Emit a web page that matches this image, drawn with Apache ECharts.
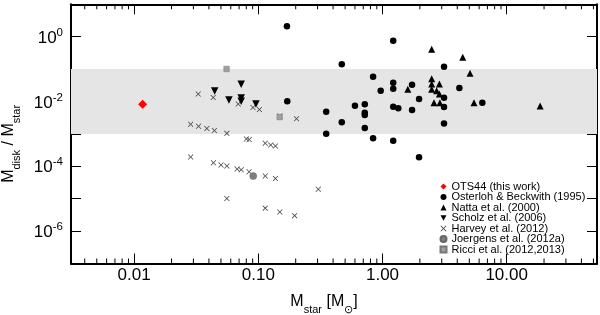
<!DOCTYPE html>
<html><head><meta charset="utf-8">
<script src="https://cdn.jsdelivr.net/npm/echarts@6/dist/echarts.min.js"></script>
<style>html,body{margin:0;padding:0;background:#fff}#c{width:600px;height:315px}</style>
</head><body><div id="c"></div>
<script>
// ---- data ----
const xRange = [0.0031, 53.4];
const yRange = [1e-7, 10];
const band = [0.001, 0.1];
const xMinorTicks = [0.004,0.005,0.006,0.007,0.008,0.009,
  0.02,0.03,0.04,0.05,0.06,0.07,0.08,0.09,
  0.2,0.3,0.4,0.5,0.6,0.7,0.8,0.9,
  2,3,4,5,6,7,8,9,20,30,40,50];
const seriesNames = ['OTS44 (this work)','Osterloh & Beckwith (1995)','Natta et al. (2000)','Scholz et al. (2006)','Harvey et al. (2012)','Joergens et al. (2012a)','Ricci et al. (2012,2013)'];
const ots44 = [[0.0117, 0.0082]];
const osterloh = [[1.22,0.75],[0.47,0.14],[3.13,0.119],[0.84,0.058],[1.22,0.038],[1.22,0.0248],[1.73,0.033],[0.967,0.0216],[4.16,0.026],[1.97,0.0119],[3.13,0.0131],[6.37,0.0092],[0.72,0.0082],[0.60,0.0074],[1.22,0.0069],[1.34,0.0062],[3.13,0.0068],[1.73,0.0055],[0.352,0.0048],[0.72,0.0045],[0.72,0.0038],[0.47,0.0023],[3.13,0.0021],[0.72,0.00152],[0.352,0.00101],[0.84,0.00073],[1.22,0.00062],[1.97,0.00019],[0.171,0.0101],[0.17,2.1]];
const natta = [[2.49,0.41],[4.43,0.231],[5.07,0.074],[2.49,0.0506],[2.87,0.0347],[2.49,0.0347],[2.49,0.0238],[1.60,0.0238],[2.73,0.0216],[2.87,0.017],[2.6,0.0092],[2.9,0.0092],[5.46,0.0092],[18.6,0.0073]];
const scholz = [[0.0445,0.0211],[0.0728,0.034],[0.058,0.0111],[0.0728,0.0128],[0.0728,0.0101],[0.0957,0.0084]];
const harvey = [[0.0328,0.0170],[0.0433,0.0133],[0.0689,0.00837],[0.0905,0.00653],[0.102,0.00566],[0.149,0.00357],[0.203,0.00294],[0.0285,0.00198],[0.0330,0.00172],[0.0385,0.00147],[0.0443,0.00127],[0.0558,0.00104],[0.0802,0.000696],[0.0845,0.000671],[0.1137,0.000513],[0.1257,0.000454],[0.1374,0.000423],[0.0285,0.000194],[0.0435,0.000129],[0.0501,0.000110],[0.0558,0.000102],[0.0675,0.0000826],[0.0728,0.0000785],[0.0843,0.0000676],[0.1137,0.0000502],[0.1374,0.0000420],[0.304,0.0000196],[0.0558,0.0000101],[0.1137,0.0000051],[0.149,0.0000039],[0.196,0.0000030]];
const joergens = [[0.091, 0.000050]];
const ricci = [[0.0555, 0.1007],[0.1485, 0.0033]];

// ---- chart ----
const FONT = 'Liberation Sans, Arial, sans-serif';
const xPath = 'path://M0,1L1,0L5,4L9,0L10,1L6,5L10,9L9,10L5,6L1,10L0,9L4,5Z';
const downTri = 'path://M0,0L10,0L5,9Z';
const chart = echarts.init(document.getElementById('c'), null, {renderer:'canvas'});
const axLine = {show:true, lineStyle:{color:'#000', width:2}};
const supRich = {
  b:{fontSize:17, fontFamily:FONT, color:'#000', lineHeight:20, verticalAlign:'bottom'},
  sup:{fontSize:11.5, fontFamily:FONT, color:'#000', lineHeight:20, verticalAlign:'top'}
};
function yFmt(v){
  const e = Math.round(Math.log10(v));
  if (e % 2 !== 0 || e > 0 || e < -6) return '';
  return '{b|10}{sup|' + (e === 0 ? '0' : e) + '}';
}
const subRich = {
  m:{fontSize:16, fontFamily:FONT, color:'#000', lineHeight:22, verticalAlign:'top'},
  s:{fontSize:11, fontFamily:FONT, color:'#000', lineHeight:22, verticalAlign:'bottom'}
};
const option = {
  animation:false,
  backgroundColor:'#fff',
  grid:{left:71, right:3, top:4.3, bottom:51.5, containLabel:false, outerBoundsMode:'none'},
  legend:{
    data:seriesNames, orient:'vertical', left:439.5, top:181,
    itemWidth:6, itemHeight:6, itemGap:-0.5, padding:0,
    textStyle:{fontSize:11, fontFamily:FONT, color:'#000', lineHeight:10.5}
  },
  xAxis:[{
    type:'log', min:xRange[0], max:xRange[1], position:'bottom',
    axisLine:axLine, splitLine:{show:false},
    axisTick:{inside:true, length:10, lineStyle:{color:'#000', width:1}},
    axisLabel:{fontSize:17, fontFamily:FONT, color:'#000', margin:3, showMinLabel:false, showMaxLabel:false,
      formatter:v=>v.toFixed(2)},
    name:'{m|M}{s|star}{m| [M}{s|⊙}{m|]}', nameLocation:'middle', nameGap:30,
    nameTextStyle:{rich:subRich, padding:[0,20,0,0]}
  },{
    type:'log', min:xRange[0], max:xRange[1], position:'top',
    axisLine:axLine, splitLine:{show:false}, axisLabel:{show:false},
    axisTick:{inside:true, length:10, lineStyle:{color:'#000', width:1}}
  }],
  yAxis:[{
    type:'log', min:yRange[0], max:yRange[1], splitNumber:8, position:'left',
    axisLine:axLine, splitLine:{show:false},
    axisTick:{inside:true, length:10, lineStyle:{color:'#000', width:1}},
    axisLabel:{margin:8, formatter:yFmt, rich:supRich, showMinLabel:false, showMaxLabel:false},
    name:'{m|M}{s|disk}{m| / M}{s|star}', nameLocation:'middle', nameGap:44, nameRotate:90,
    nameTextStyle:{rich:subRich, padding:[0,20,0,0]}
  },{
    type:'log', min:yRange[0], max:yRange[1], splitNumber:8, position:'right',
    axisLine:axLine, splitLine:{show:false}, axisLabel:{show:false},
    axisTick:{inside:true, length:10, lineStyle:{color:'#000', width:1}}
  }],
  series:[
    {type:'custom', name:'minor', silent:true, clip:false, z:5,
     data:xMinorTicks.map(v=>[v,1]),
     renderItem:(p, api)=>{
       const v = api.value(0);
       const b = api.coord([v, yRange[0]]);
       const t = api.coord([v, yRange[1]]);
       return {type:'group', children:[
         {type:'line', shape:{x1:b[0],y1:b[1],x2:b[0],y2:b[1]-5}, style:{stroke:'#000',lineWidth:1}},
         {type:'line', shape:{x1:t[0],y1:t[1],x2:t[0],y2:t[1]+5}, style:{stroke:'#000',lineWidth:1}}
       ]};
     },
     markArea:{silent:true, itemStyle:{color:'#e5e5e5'}, data:[[{yAxis:band[0]},{yAxis:band[1]}]]}
    },
    {type:'scatter', name:seriesNames[4], data:harvey, symbol:xPath, symbolSize:5.5, itemStyle:{color:'#444', opacity:1}, z:3},
    {type:'scatter', name:seriesNames[1], data:osterloh, symbol:'circle', symbolSize:6.5, itemStyle:{color:'#000', opacity:1}, z:4},
    {type:'scatter', name:seriesNames[2], data:natta, symbol:'triangle', symbolSize:7, itemStyle:{color:'#000', opacity:1}, z:4},
    {type:'scatter', name:seriesNames[3], data:scholz, symbol:downTri, symbolSize:7.5, itemStyle:{color:'#000', opacity:1}, z:4},
    {type:'scatter', name:seriesNames[5], data:joergens, symbol:'circle', symbolSize:7, itemStyle:{color:'#7f7f7f', borderColor:'#666', borderWidth:0.5, opacity:1}, z:4},
    {type:'scatter', name:seriesNames[6], data:ricci, symbol:'rect', symbolSize:5.5, itemStyle:{color:'#a0a0a0', borderColor:'#777', borderWidth:0.5, opacity:1}, z:4},
    {type:'scatter', name:seriesNames[0], data:ots44, symbol:'diamond', symbolSize:9, itemStyle:{color:'#ff0000', opacity:1}, z:6}
  ]
};
chart.setOption(option);
</script></body></html>
